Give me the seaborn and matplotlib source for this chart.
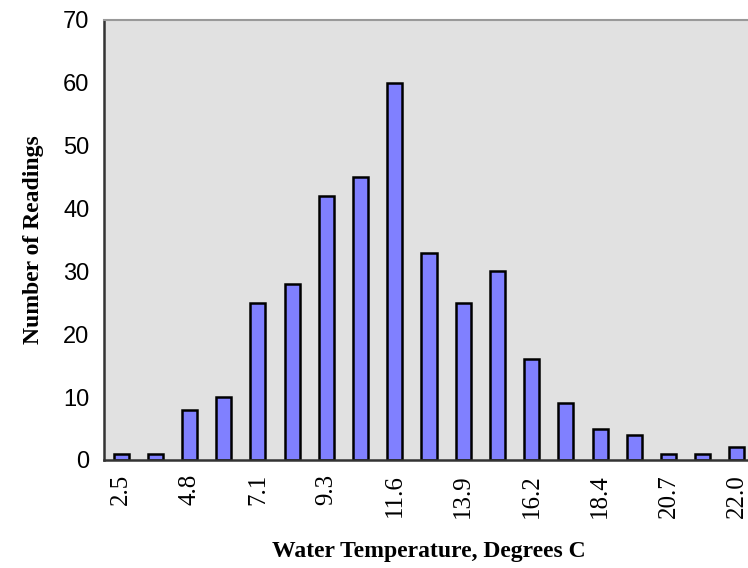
import matplotlib
matplotlib.use("Agg")
import matplotlib.pyplot as plt
import seaborn as sns
import pandas as pd

# Histogram bins (upper bin value) and counts
bins = ["2.5", "3.6", "4.8", "5.9", "7.1", "8.2", "9.3", "10.5", "11.6", "12.7",
        "13.9", "15.0", "16.2", "17.3", "18.4", "19.6", "20.7", "21.8", "22.0"]
counts = [1, 1, 8, 10, 25, 28, 42, 45, 60, 33, 25, 30, 16, 9, 5, 4, 1, 1, 2]
shown_labels = ["2.5", "4.8", "7.1", "9.3", "11.6", "13.9", "16.2", "18.4", "20.7", "22.0"]
y_ticks = [0, 10, 20, 30, 40, 50, 60, 70]

df = pd.DataFrame({"bin": bins, "count": counts})

sns.set_style("white")
plt.rcParams.update({"text.color": "black", "axes.labelcolor": "black",
                     "xtick.labelcolor": "black", "ytick.labelcolor": "black"})
serif = ["Liberation Serif", "DejaVu Serif"]
sans = ["Liberation Sans", "DejaVu Sans"]

fig = plt.figure(figsize=(7.48, 5.68), dpi=100)
ax = fig.add_axes([104 / 748, 1 - 460 / 568, 650 / 748, 440 / 568])
ax.set_facecolor("#e1e1e1")

sns.barplot(data=df, x="bin", y="count", order=bins, color="#8080ff",
            saturation=1, edgecolor="black", linewidth=1.8, width=0.44, ax=ax)

ax.set_xlim(-0.5, len(bins) - 0.5)
ax.set_ylim(0, 70)

# major x ticks at bin boundaries, labels on every other bin centre
ax.set_xticks([i - 0.5 for i in range(len(bins) + 1)])
ax.set_xticklabels([])
ax.set_xticks([bins.index(b) for b in shown_labels], minor=True)
ax.set_xticklabels(shown_labels, minor=True, rotation=90, fontsize=18,
                   family=serif, color="black")
ax.tick_params(axis="x", which="major", direction="inout", length=12,
               width=1, color="#444444")
ax.tick_params(axis="x", which="minor", length=0, pad=10)

ax.set_yticks(y_ticks)
ax.set_yticklabels([str(v) for v in y_ticks], fontsize=17, family=sans,
                   color="black")
ax.tick_params(axis="y", direction="inout", length=9, width=1.2,
               color="#222222", pad=6)

ax.spines["right"].set_visible(False)
ax.spines["top"].set_color("#999999")
ax.spines["top"].set_linewidth(1.5)
for s in ["left", "bottom"]:
    ax.spines[s].set_color("#333333")
    ax.spines[s].set_linewidth(1.8)

ax.set_xlabel("Water Temperature, Degrees C", fontsize=17, fontweight="bold",
              family=serif, labelpad=17, color="black")
ax.set_ylabel("Number of Readings", fontsize=17, fontweight="bold",
              family=serif, labelpad=14, color="black")

fig.savefig("out.png", dpi=100)
